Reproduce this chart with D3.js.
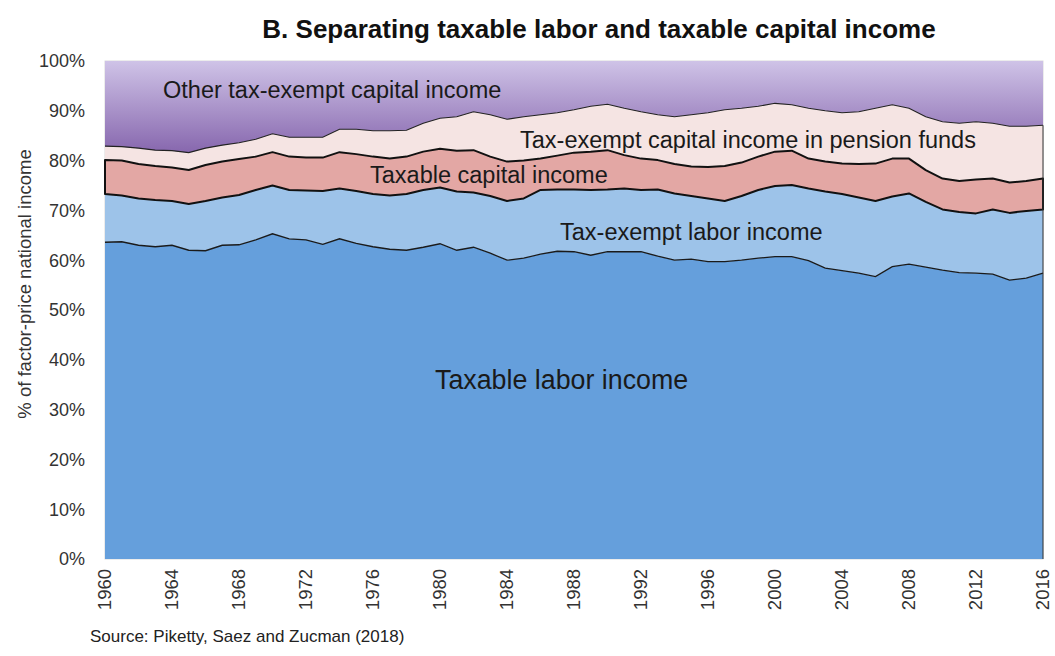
<!DOCTYPE html>
<html>

<head>
    <title>Separating taxable labor and taxable capital income</title>
    <script src="https://d3js.org/d3.v7.min.js"></script>
    <style>
        body {
            margin: 0;
            background: #fff;
        }

        text {
            font-family: "Liberation Sans", Arial, sans-serif;
        }
    </style>
</head>

<body>
    <div id="svg"></div>
    <script>
        // years 1960..2016
        var years = d3.range(1960, 2017)

        // shares of factor-price national income (%), bottom to top
        var taxableLabor = [63.6, 63.7, 63.0, 62.7, 63.0, 62.0, 61.9, 63.0, 63.1, 64.1, 65.3, 64.3, 64.1, 63.2, 64.3, 63.4, 62.7, 62.2, 62.0, 62.6,
            63.3, 62.0, 62.6, 61.4, 60.0, 60.4, 61.2, 61.8, 61.7, 61.0, 61.7, 61.7, 61.7, 60.8, 60.0, 60.2, 59.7, 59.7, 60.0, 60.4,
            60.7, 60.7, 59.9, 58.4, 57.9, 57.4, 56.7, 58.7, 59.2, 58.6, 58.0, 57.5, 57.4, 57.2, 56.0, 56.4, 57.4]
        var taxExemptLabor = [9.7, 9.3, 9.4, 9.4, 8.9, 9.3, 10.0, 9.6, 10.0, 10.0, 9.7, 9.8, 9.9, 10.7, 10.1, 10.5, 10.6, 10.8, 11.3, 11.5,
            11.3, 11.8, 11.0, 11.5, 11.9, 12.0, 12.9, 12.4, 12.5, 13.1, 12.5, 12.7, 12.4, 13.4, 13.4, 12.7, 12.7, 12.2, 12.9, 13.7,
            14.2, 14.4, 14.5, 15.4, 15.4, 15.2, 15.2, 14.1, 14.2, 13.1, 12.2, 12.2, 12.0, 13.0, 13.5, 13.5, 12.8]
        var taxableCapital = [6.8, 7.0, 6.9, 6.8, 6.7, 6.8, 7.2, 7.2, 7.2, 6.7, 6.7, 6.7, 6.6, 6.7, 7.3, 7.4, 7.5, 7.4, 7.5, 7.7,
            7.8, 8.2, 8.5, 7.9, 7.9, 7.6, 6.3, 6.8, 7.4, 7.7, 7.9, 6.7, 6.3, 5.9, 5.9, 5.9, 6.3, 7.0, 6.7, 6.7,
            6.9, 6.9, 6.0, 6.0, 6.1, 6.7, 7.5, 7.6, 7.0, 6.4, 6.2, 6.2, 6.8, 6.2, 6.1, 6.0, 6.2]
        var pensionFunds = [2.8, 2.8, 3.2, 3.2, 3.4, 3.5, 3.4, 3.3, 3.3, 3.5, 3.7, 3.9, 4.1, 4.1, 4.6, 5.0, 5.2, 5.6, 5.3, 5.7,
            6.1, 6.8, 7.7, 8.4, 8.5, 8.8, 8.8, 8.6, 8.6, 9.1, 9.2, 9.4, 9.4, 9.1, 9.5, 10.4, 10.9, 11.3, 10.9, 10.1,
            9.7, 9.2, 10.1, 10.2, 10.2, 10.5, 11.1, 10.8, 10.1, 10.7, 11.4, 11.6, 11.6, 11.1, 11.3, 11.0, 10.7]
        var otherCapital = [17.1, 17.2, 17.5, 17.9, 18.0, 18.4, 17.5, 16.9, 16.4, 15.7, 14.6, 15.3, 15.3, 15.3, 13.7, 13.7, 14.0, 14.0, 13.9, 12.5,
            11.5, 11.2, 10.2, 10.8, 11.7, 11.2, 10.8, 10.4, 9.8, 9.1, 8.7, 9.5, 10.2, 10.8, 11.2, 10.8, 10.4, 9.8, 9.5, 9.1,
            8.5, 8.8, 9.5, 10.0, 10.4, 10.2, 9.5, 8.8, 9.5, 11.2, 12.2, 12.5, 12.2, 12.5, 13.1, 13.1, 12.9]

        var seriesKeys = ["taxableLabor", "taxExemptLabor", "taxableCapital", "pensionFunds", "otherCapital"]
        var yTicks = d3.range(0, 101, 10)
        var xTicks = d3.range(1960, 2017, 4)

        var data = years.map(function (yr, i) {
            return {
                year: yr,
                taxableLabor: taxableLabor[i],
                taxExemptLabor: taxExemptLabor[i],
                taxableCapital: taxableCapital[i],
                pensionFunds: pensionFunds[i],
                otherCapital: otherCapital[i]
            }
        })

        var W = 1055, H = 656
        var svg = d3.select("#svg").append("svg")
            .attr("width", W)
            .attr("height", H)

        var x = d3.scaleLinear().domain([1960, 2016]).range([105, 1043])
        var y = d3.scaleLinear().domain([0, 100]).range([559, 61])

        var defs = svg.append("defs")
        var grad = defs.append("linearGradient")
            .attr("id", "purple")
            .attr("x1", 0).attr("y1", 0).attr("x2", 0).attr("y2", 1)
        grad.append("stop").attr("offset", "0%").attr("stop-color", "#cfc3e7")
        grad.append("stop").attr("offset", "100%").attr("stop-color", "#8767ae")

        var fills = {
            taxableLabor: "#659fdc",
            taxExemptLabor: "#9dc3e9",
            taxableCapital: "#e3a7a4",
            pensionFunds: "#f5e4e3",
            otherCapital: "url(#purple)"
        }

        var stack = d3.stack().keys(seriesKeys)
        var layers = stack(data)

        var area = d3.area()
            .x(function (d) { return x(d.data.year) })
            .y0(function (d) { return y(d[0]) })
            .y1(function (d) { return y(d[1]) })

        var topLine = d3.line()
            .x(function (d) { return x(d.data.year) })
            .y(function (d) { return y(d[1]) })

        // plot frame
        svg.append("rect")
            .attr("x", x(1960)).attr("y", y(100))
            .attr("width", x(2016) - x(1960)).attr("height", y(0) - y(100))
            .attr("fill", "none")
            .attr("stroke", "#d9d9d9")

        svg.selectAll(".layer")
            .data(layers)
            .enter()
            .append("path")
            .attr("class", "layer")
            .attr("d", area)
            .attr("fill", function (d) { return fills[d.key] })

        // outlines
        svg.append("path")
            .datum(layers[0])
            .attr("d", topLine)
            .attr("fill", "none")
            .attr("stroke", "#1a1a1a")
            .attr("stroke-width", 1.3)
        svg.append("path")
            .datum(layers[2])
            .attr("d", area)
            .attr("fill", "none")
            .attr("stroke", "#111")
            .attr("stroke-width", 2)
            .attr("stroke-linejoin", "round")
        svg.append("path")
            .datum(layers[3])
            .attr("d", topLine)
            .attr("fill", "none")
            .attr("stroke", "#222")
            .attr("stroke-width", 1.1)
        svg.append("line")
            .attr("x1", x(2016)).attr("x2", x(2016))
            .attr("y1", y(0)).attr("y2", y(100 - otherCapital[otherCapital.length - 1]))
            .attr("stroke", "#333")
            .attr("stroke-width", 1)

        // y axis labels
        svg.selectAll(".ytick")
            .data(yTicks)
            .enter()
            .append("text")
            .attr("class", "ytick")
            .attr("x", 85)
            .attr("y", function (d) { return y(d) })
            .attr("dy", "0.35em")
            .attr("text-anchor", "end")
            .style("font-size", "18px")
            .style("fill", "#333")
            .text(function (d) { return d + "%" })

        svg.append("text")
            .attr("transform", "translate(25,284) rotate(-90)")
            .attr("dy", "0.35em")
            .attr("text-anchor", "middle")
            .style("font-size", "18.5px")
            .style("fill", "#333")
            .text("% of factor-price national income")

        // x axis labels
        svg.selectAll(".xtick")
            .data(xTicks)
            .enter()
            .append("text")
            .attr("class", "xtick")
            .attr("transform", function (d) { return "translate(" + x(d) + ",569) rotate(-90)" })
            .attr("dy", "0.35em")
            .attr("text-anchor", "end")
            .style("font-size", "18.5px")
            .style("fill", "#333")
            .text(function (d) { return d })

        // title
        svg.append("text")
            .attr("x", 599)
            .attr("y", 38)
            .attr("text-anchor", "middle")
            .style("font-size", "26px")
            .style("font-weight", "bold")
            .style("fill", "#111")
            .text("B. Separating taxable labor and taxable capital income")

        svg.append("text")
            .attr("x", 90)
            .attr("y", 642)
            .style("font-size", "17px")
            .style("fill", "#222")
            .text("Source: Piketty, Saez and Zucman (2018)")

        // series labels
        var labels = [
            { text: "Other tax-exempt capital income", x: 163, y: 90, size: 23.5 },
            { text: "Tax-exempt capital income in pension funds", x: 520, y: 140, size: 23.5 },
            { text: "Taxable capital income", x: 370, y: 175, size: 23.5 },
            { text: "Tax-exempt labor income", x: 560, y: 232, size: 23.5 },
            { text: "Taxable labor income", x: 435, y: 380, size: 26.8 }
        ]
        svg.selectAll(".lbl")
            .data(labels)
            .enter()
            .append("text")
            .attr("class", "lbl")
            .attr("x", function (d) { return d.x })
            .attr("y", function (d) { return d.y })
            .attr("dy", "0.35em")
            .style("font-size", function (d) { return d.size + "px" })
            .style("fill", "#1a1a1a")
            .text(function (d) { return d.text })
    </script>

</body>

</html>
